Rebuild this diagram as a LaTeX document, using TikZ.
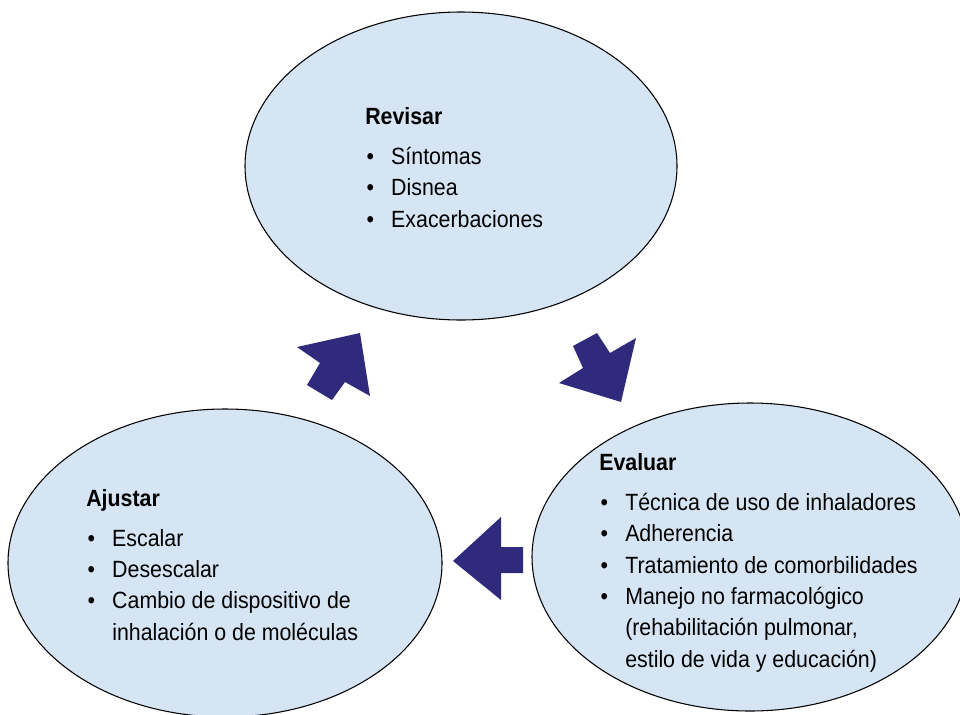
\documentclass[tikz,border=0pt]{standalone}
\usepackage{fontspec}
\setmainfont{Liberation Sans}[FakeStretch=0.91]
\usepackage{tikz}
\usetikzlibrary{shapes.geometric}

\definecolor{cyclefill}{HTML}{D6E5F4}
\definecolor{cyclenavy}{HTML}{2F2A7C}

\tikzset{
  stage/.style={ellipse, draw=black, line width=0.8pt, fill=cyclefill, inner sep=0pt},
  stagetext/.style={anchor=base west, inner sep=0pt, align=left,
    font=\fontsize{17.6pt}{23.5pt}\selectfont},
  bigarrow/.style={fill=cyclenavy}
}
\newcommand{\itm}{\makebox[19.5pt][l]{\hspace{1pt}\textbullet}}
\newcommand{\cont}{\makebox[19.5pt]{}}

\begin{document}
\begin{tikzpicture}[x=0.75pt,y=0.75pt,yscale=-1,xscale=1]
    \clip (0,0) rectangle (960,714);

    % Ellipses
    \node [stage, minimum width=324pt, minimum height=231pt] (revisar) at (461,166) {};
    \node [stage, minimum width=327pt, minimum height=231pt] (evaluar) at (750,557) {};
    \node [stage, minimum width=325.5pt, minimum height=231pt] (ajustar) at (225,563) {};

    % Arrows
    \fill [bigarrow] (360,333) -- (297,347) -- (320,363) -- (307,385) -- (332,400) -- (345,382) -- (370,396) -- cycle;
    \fill [bigarrow] (597,333) -- (573,346) -- (583,368) -- (559,383) -- (621,402) -- (636,338) -- (610,353) -- cycle;
    \fill [bigarrow] (453,561) -- (501,517) -- (501,547) -- (523,547) -- (523,573) -- (501,573) -- (501,600) -- cycle;

    % Text Node (anchored at the last baseline)
    \node [stagetext] (revisartxt) at (365,227) {\textbf{Revisar}\\[6.5pt]
      \itm Síntomas\\
      \itm Disnea\\
      \itm Exacerbaciones};
    % Text Node
    \node [stagetext] (evaluartxt) at (599,667) {\textbf{Evaluar}\\[6.5pt]
      \itm Técnica de uso de inhaladores\\
      \itm Adherencia\\
      \itm Tratamiento de comorbilidades\\
      \itm Manejo no farmacológico\\
      \cont (rehabilitación pulmonar,\\
      \cont estilo de vida y educación)};
    % Text Node
    \node [stagetext] (ajustartxt) at (86,640) {\textbf{Ajustar}\\[6.5pt]
      \itm Escalar\\
      \itm Desescalar\\
      \itm Cambio de dispositivo de\\
      \cont inhalación o de moléculas};
\end{tikzpicture}
\end{document}
